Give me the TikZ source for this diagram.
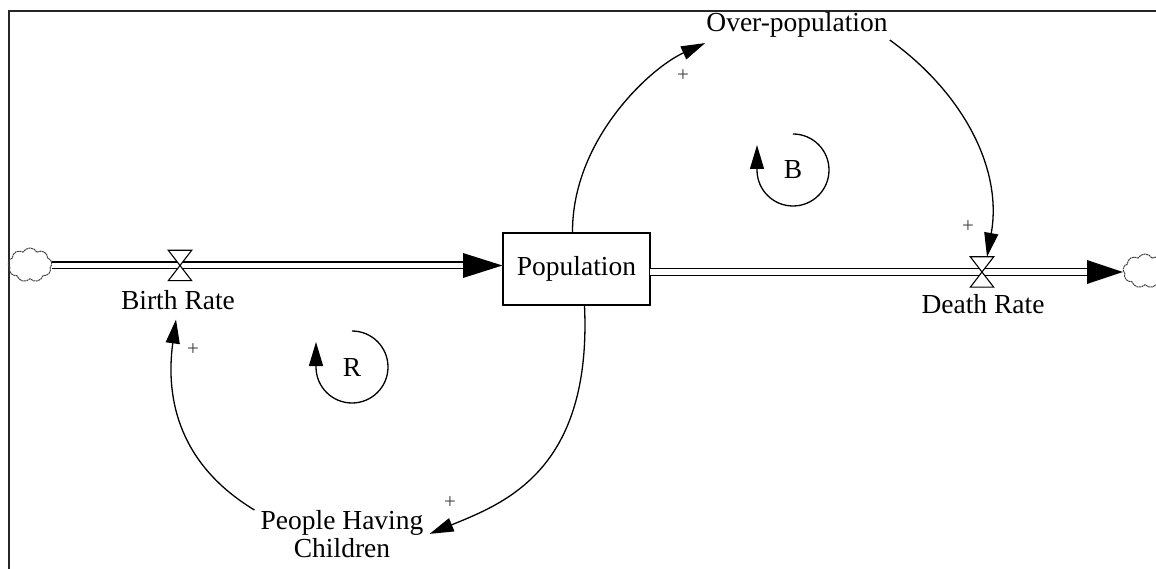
\documentclass[tikz,border=0pt]{standalone}
\usepackage{fontspec}
\setmainfont{Liberation Serif}
\usetikzlibrary{arrows.meta,shapes.symbols,calc}
\begin{document}
\begin{tikzpicture}[x=1pt,y=-1pt,
  lbl/.style={font=\fontsize{27.5}{28}\selectfont, inner sep=0pt},
  sign/.style={font=\fontsize{21}{21}\selectfont, inner sep=0pt, text=black!75},
  link/.style={line width=1.3pt, -{Triangle[length=24pt,width=14pt]}},
  looparrow/.style={line width=1.3pt, -{Triangle[length=24pt,width=14pt]}},
  pipe/.style={line width=1.4pt, double=white, double distance=5.2pt},
  stock/.style={draw, line width=1.2pt, minimum width=147pt, minimum height=72pt,
    inner sep=0pt, font=\fontsize{27.5}{28}\selectfont},
  valve/.style={minimum width=23pt, minimum height=30pt, inner sep=0pt},
  source/.style={cloud, cloud puffs=9, cloud puff arc=120, aspect=1.25,
    minimum width=44pt, minimum height=34pt, inner sep=0pt,
    draw=black!75, line width=1pt, dash pattern=on 2pt off 0.6pt},
  head/.style={fill=black}
]
\useasboundingbox (0,0) rectangle (1156,569);

% frame
\draw[line width=2pt, draw=black!85] (9,569) -- (9,11) -- (1156,11);

% stock
\node[stock] (pop) at (576.5,269) {Population};

% sources and sinks
\node[source] (cloudL) at (30,265) {};
\node[source] (cloudR) at (1145,271) {};

% inflow pipe
\coordinate (inbase) at (463,265.5);
\draw[pipe] (cloudL.east |- inbase) -- (inbase);
\fill[head] (463,253) -- (pop.west |- inbase) -- (463,278) -- cycle;

% outflow pipe
\coordinate (outstart) at (650,272);
\coordinate (outbase) at (1087,272);
\draw[pipe] (outstart) -- (outbase);
\fill[head] (1087,260) -- (cloudR.west |- outbase) -- (1087,284) -- cycle;

% valves
\node[valve] (bvalve) at (180,265.5) {};
\node[valve] (dvalve) at (982,272) {};
\foreach \v in {bvalve,dvalve}
  \draw[line width=1.1pt, fill=white, line join=miter]
    (\v.north west) -- (\v.north east) -- (\v.south west) -- (\v.south east) -- cycle;

% labels
\node[lbl, anchor=base] (brl) at (178,309) {Birth Rate};
\node[lbl, anchor=base] (drl) at (983,313) {Death Rate};
\node[lbl, anchor=base] (over) at (797,32) {Over-population};
\node[lbl, anchor=north, align=center] (phc) at (342,510) {People Having\\[0pt]Children};

% causal links
\draw[link] ([xshift=-4pt]pop.north) .. controls (572,140) and (650,68) .. ($(over.south west)+(-1,5)$);
\draw[link] ($(over.south east)+(2,2)$) .. controls (962,92) and (1003,168) .. ($(dvalve.north)+(5,0)$);
\draw[link] ([xshift=8pt]pop.south) .. controls (592,470) and (505,503) .. ($(phc.east)+(6,0)$);
\draw[link] ($(phc.north west)+(-6,0)$) .. controls (180,465) and (165,400) .. ($(brl.south)+(-2,10)$);

% polarities
\node[sign] at (683,76) {+};
\node[sign] at (968,227) {+};
\node[sign] at (193,350) {+};
\node[sign] at (450,503) {+};

% loop identifiers
\node[lbl] (bloop) at (793,170) {B};
\draw[looparrow] ($(bloop)+(0,-36)$) arc[start angle=-90, end angle=180, radius=36] -- ++(0,-25);
\node[lbl] (rloop) at (352,367) {R};
\draw[looparrow] ($(rloop)+(0,-36)$) arc[start angle=-90, end angle=180, radius=36] -- ++(0,-25);
\end{tikzpicture}
\end{document}
